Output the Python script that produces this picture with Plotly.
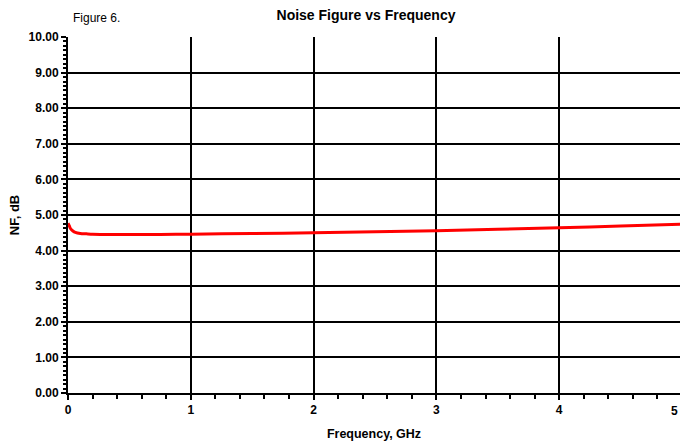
import plotly.graph_objects as go

freq_ghz = [0, 0.01, 0.02, 0.04, 0.06, 0.1, 0.15, 0.2, 0.3, 0.5, 0.75, 1.0, 1.5, 2.0, 2.5, 3.0, 3.5, 4.0, 4.5, 5.0]
nf_db = [4.77, 4.70, 4.62, 4.55, 4.51, 4.48, 4.47, 4.46, 4.455, 4.45, 4.455, 4.46, 4.48, 4.50, 4.53, 4.56, 4.60, 4.64, 4.69, 4.74]

x_ticks = [0, 1, 2, 3, 4, 5]
y_ticks = [0, 1, 2, 3, 4, 5, 6, 7, 8, 9, 10]

FONT = "Liberation Sans, Arial, sans-serif"
X_END = 612 / 122.8  # visible part of the 0..5 axis

fig = go.Figure()
fig.add_trace(go.Scatter(
    x=freq_ghz, y=nf_db, mode="lines",
    line=dict(color="#ff0000", width=3, shape="spline", smoothing=0.6),
    showlegend=False, hoverinfo="skip",
))

fig.update_layout(
    width=680, height=441,
    margin=dict(l=68, r=0, t=37, b=48),
    paper_bgcolor="white", plot_bgcolor="white",
    font=dict(family=FONT, color="black", size=12),
    title=dict(text="<b>Noise Figure vs Frequency</b>", x=366/680, xanchor="center",
               y=1 - 15/441, yanchor="middle", font=dict(size=14, family=FONT)),
    annotations=[
        dict(text="Figure 6.", xref="paper", yref="paper", x=(71 - 68) / 612, xanchor="left",
             y=1 + (37 - 18) / 356, yanchor="middle", showarrow=False,
             font=dict(size=12, family=FONT)),
        dict(text=f"<b>{x_ticks[-1]}</b>", xref="paper", yref="paper", x=1, xanchor="right",
             y=-(411 - 393) / 356, yanchor="middle", showarrow=False,
             font=dict(size=12, family=FONT)),
    ],
)

fig.update_xaxes(
    range=[0, X_END], tickvals=x_ticks[:-1], ticktext=[f"<b>{v}</b>" for v in x_ticks[:-1]],
    showgrid=True, gridcolor="black", gridwidth=2,
    showline=True, linecolor="black", linewidth=2,
    ticks="outside", ticklen=5, tickwidth=2, tickcolor="black",
    minor=dict(dtick=0.2, ticks="outside", ticklen=4, tickwidth=2, tickcolor="black", showgrid=False),
    zeroline=False,
    title=dict(text="<b>Frequency, GHz</b>", font=dict(size=12.5, family=FONT), standoff=14),
    tickfont=dict(size=12, family=FONT),
)
fig.update_yaxes(
    range=[0, 10], tickvals=y_ticks, ticktext=[f"<b>{v:.2f}</b>" for v in y_ticks],
    showgrid=True, gridcolor="black", gridwidth=2,
    showline=True, linecolor="black", linewidth=2,
    ticks="outside", ticklen=5, tickwidth=2, tickcolor="black",
    minor=dict(dtick=0.125, ticks="outside", ticklen=3, tickwidth=2, tickcolor="black", showgrid=False),
    zeroline=False,
    title=dict(text="<b>NF, dB</b>", font=dict(size=13, family=FONT), standoff=6),
    tickfont=dict(size=12, family=FONT),
)

fig.write_html("out.html")
